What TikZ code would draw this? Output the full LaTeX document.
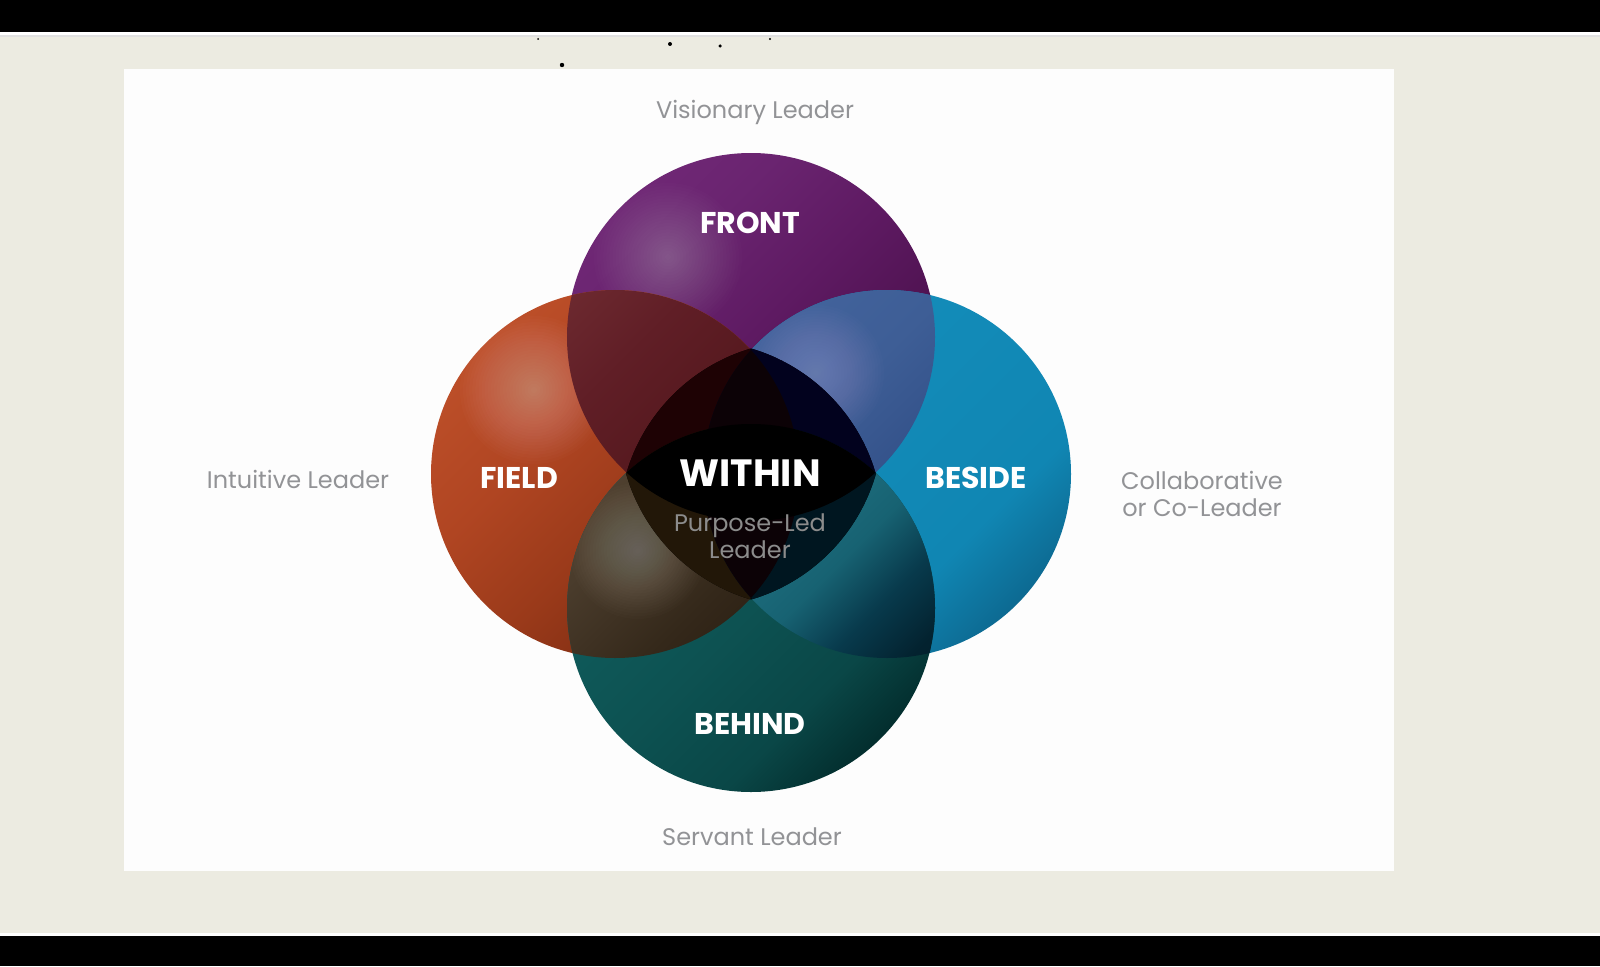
\documentclass[tikz,border=0pt]{standalone}
\usepackage{fontspec}
\setmainfont{Poppins}
\usetikzlibrary{positioning}

\definecolor{LDRbeige}{HTML}{ECEBE1}
\definecolor{LDRpanel}{HTML}{FDFDFD}
\definecolor{LDRgray}{HTML}{929396}
\definecolor{LDRcore}{HTML}{8C8C8C}

%% core tints
\definecolor{ct1}{HTML}{1E0204}\definecolor{ct2}{HTML}{02021E}\definecolor{ct3}{HTML}{221708}
\definecolor{ct4}{HTML}{001620}\definecolor{ct5}{HTML}{0C0206}

%% diagonal gradients: 15bp = lower right rim, 85bp = upper left rim
\pgfdeclareverticalshading{frontlin}{100bp}{%
  color(0bp)=({rgb,255:red,62;green,8;blue,60});   color(15bp)=({rgb,255:red,62;green,8;blue,60});
  color(35bp)=({rgb,255:red,78;green,18;blue,80});  color(50bp)=({rgb,255:red,94;green,26;blue,98});
  color(65bp)=({rgb,255:red,106;green,36;blue,112}); color(85bp)=({rgb,255:red,116;green,42;blue,122});
  color(100bp)=({rgb,255:red,116;green,42;blue,122})}
\pgfdeclareverticalshading{fieldlin}{100bp}{%
  color(0bp)=({rgb,255:red,110;green,36;blue,14});  color(15bp)=({rgb,255:red,110;green,36;blue,14});
  color(30bp)=({rgb,255:red,126;green,44;blue,18});  color(45bp)=({rgb,255:red,154;green,58;blue,26});
  color(60bp)=({rgb,255:red,176;green,69;blue,34});  color(85bp)=({rgb,255:red,196;green,85;blue,45});
  color(100bp)=({rgb,255:red,196;green,85;blue,45})}
\pgfdeclareverticalshading{besidelin}{100bp}{%
  color(0bp)=({rgb,255:red,7;green,62;blue,92});    color(15bp)=({rgb,255:red,7;green,62;blue,92});
  color(25bp)=({rgb,255:red,13;green,106;blue,146}); color(36bp)=({rgb,255:red,16;green,134;blue,179});
  color(85bp)=({rgb,255:red,21;green,144;blue,189}); color(100bp)=({rgb,255:red,21;green,144;blue,189})}
\pgfdeclareverticalshading{behindlin}{100bp}{%
  color(0bp)=({rgb,255:red,2;green,34;blue,34});    color(15bp)=({rgb,255:red,2;green,34;blue,34});
  color(25bp)=({rgb,255:red,3;green,46;blue,46});    color(35bp)=({rgb,255:red,10;green,71;blue,71});
  color(50bp)=({rgb,255:red,13;green,82;blue,82});   color(65bp)=({rgb,255:red,15;green,90;blue,90});
  color(85bp)=({rgb,255:red,18;green,98;blue,98});   color(100bp)=({rgb,255:red,18;green,98;blue,98})}
%% overlaps
\pgfdeclareverticalshading{frfilin}{100bp}{%
  color(0bp)=({rgb,255:red,48;green,6;blue,8});     color(15bp)=({rgb,255:red,48;green,6;blue,8});
  color(40bp)=({rgb,255:red,72;green,16;blue,26});   color(50bp)=({rgb,255:red,88;green,26;blue,32});
  color(60bp)=({rgb,255:red,96;green,30;blue,38});   color(75bp)=({rgb,255:red,112;green,44;blue,50});
  color(85bp)=({rgb,255:red,122;green,52;blue,56});  color(100bp)=({rgb,255:red,122;green,52;blue,56})}
\pgfdeclareverticalshading{frbslin}{100bp}{%
  color(0bp)=({rgb,255:red,30;green,46;blue,85});   color(15bp)=({rgb,255:red,30;green,46;blue,85});
  color(50bp)=({rgb,255:red,52;green,82;blue,138});  color(62bp)=({rgb,255:red,62;green,94;blue,150});
  color(85bp)=({rgb,255:red,69;green,102;blue,160}); color(100bp)=({rgb,255:red,69;green,102;blue,160})}
\pgfdeclareverticalshading{fibhlin}{100bp}{%
  color(0bp)=({rgb,255:red,26;green,18;blue,8});    color(15bp)=({rgb,255:red,26;green,18;blue,8});
  color(45bp)=({rgb,255:red,42;green,30;blue,18});   color(55bp)=({rgb,255:red,52;green,40;blue,26});
  color(70bp)=({rgb,255:red,74;green,60;blue,44});   color(85bp)=({rgb,255:red,86;green,70;blue,52});
  color(100bp)=({rgb,255:red,86;green,70;blue,52})}
\pgfdeclareverticalshading{bsbhlin}{100bp}{%
  color(0bp)=({rgb,255:red,2;green,24;blue,32});    color(15bp)=({rgb,255:red,2;green,24;blue,32});
  color(30bp)=({rgb,255:red,3;green,34;blue,47});    color(38bp)=({rgb,255:red,8;green,58;blue,76});
  color(46bp)=({rgb,255:red,23;green,98;blue,114});  color(55bp)=({rgb,255:red,30;green,110;blue,126});
  color(85bp)=({rgb,255:red,34;green,112;blue,126}); color(100bp)=({rgb,255:red,34;green,112;blue,126})}

% soft light spot: centre, radius, opacity per ring
\newcommand{\glow}[3]{%
  \foreach \k in {1,...,24}
    \fill[white,opacity=#3] (#1) circle ({#2*\k/24});}

\begin{document}
\begin{tikzpicture}[x=1pt, y=-1pt]

%% ── helpers ───────────────────────────────────────────────
\tikzset{
  outer/.style={font=\fontsize{24}{27}\selectfont,text=LDRgray,align=center,inner sep=0pt},
  ttl/.style={font=\fontsize{30}{32}\selectfont\bfseries,text=white,inner sep=0pt},
  dot/.style={circle,fill=black,inner sep=0pt,minimum size=#1},
  disc/.style={shading=#1,shading angle=45},
}
\useasboundingbox (0,0) rectangle (1600,966);

%% ── screen frame ─────────────────────────────────────────
\fill[black]      (0,0)   rectangle (1600,32);
\fill[white]      (0,32)  rectangle (1600,35);
\fill[LDRbeige]   (0,35)  rectangle (1600,933);
\fill[black!12]   (0,35)  rectangle (1600,37);
\fill[white]      (0,933) rectangle (1600,936);
\fill[black]      (0,936) rectangle (1600,966);
\fill[LDRpanel]   (123.5,69.5) rectangle (1394,871);

\node[dot=2pt]   (d1) at (538,39) {};
\node[dot=4pt]   (d2) at (670,44) {};
\node[dot=3.5pt] (d3) at (720,46) {};
\node[dot=2.4pt] (d4) at (770,39) {};
\node[dot=4.4pt] (d5) at (562,65) {};

%% ── circle centres ───────────────────────────────────────
\coordinate (fr) at (751,337);
\coordinate (fi) at (615,474);
\coordinate (bs) at (887,474);
\coordinate (bh) at (751,608);
% light spots
\coordinate (gfr) at (668,257);
\coordinate (gfi) at (534,390);
\coordinate (gbs) at (816,373);
\coordinate (gbh) at (638,551);
% centres of the four arcs of the core
\coordinate (kul) at (803,525);
\coordinate (kur) at (699,525);
\coordinate (kll) at (803,423);
\coordinate (klr) at (699,423);

%% ── the four circles ─────────────────────────────────────
\shade[disc=frontlin]  (fr) circle (184);
\shade[disc=fieldlin]  (fi) circle (184);
\shade[disc=besidelin] (bs) circle (184);
\shade[disc=behindlin] (bh) circle (184);
\begin{scope}
  \clip (fr) circle (184);
  \glow{gfr}{74}{0.012}
\end{scope}
\begin{scope}
  \clip (fi) circle (184);
  \glow{gfi}{74}{0.0145}
\end{scope}

%% ── pairwise overlaps ────────────────────────────────────
\begin{scope}
  \clip (fr) circle (184);
  \shade[disc=frfilin] (fi) circle (184);
  \shade[disc=frbslin] (bs) circle (184);
  \clip (bs) circle (184);
  \glow{gbs}{68}{0.0135}
\end{scope}
\begin{scope}
  \clip (fi) circle (184);
  \shade[disc=fibhlin] (bh) circle (184);
  \clip (bh) circle (184);
  \glow{gbh}{68}{0.012}
\end{scope}
\begin{scope}
  \clip (bh) circle (184);
  \shade[disc=bsbhlin] (bs) circle (184);
\end{scope}

%% ── dark core ────────────────────────────────────────────
\begin{scope}
  \clip (kul) circle (184);
  \clip (kur) circle (184);
  \clip (kll) circle (184);
  \clip (klr) circle (184);
  \fill[black] (600,330) rectangle (900,620);
  \begin{scope}
    \clip (fr) circle (184);
    \fill[ct1] (fi) circle (184);
    \fill[ct2] (bs) circle (184);
  \end{scope}
  \begin{scope}
    \clip (bh) circle (184);
    \fill[ct3] (fi) circle (184);
    \fill[ct4] (bs) circle (184);
  \end{scope}
  \begin{scope}
    \clip (fi) circle (184);
    \fill[ct5] (bs) circle (184);
  \end{scope}
  \begin{scope}
    \clip (fr) circle (184);
    \fill[black] (bh) circle (184);
  \end{scope}
\end{scope}

%% ── labels ───────────────────────────────────────────────
\node[ttl] (tfront)  at (750,223) {FRONT};
\node[ttl] (tfield)  at (519,478) {FIELD};
\node[ttl] (tbeside) at (976,478) {BESIDE};
\node[ttl] (tbehind) at (750,724) {BEHIND};
\node[ttl,font=\fontsize{38}{40}\selectfont\bfseries] (within) at (750,473) {WITHIN};
\node[outer,text=LDRcore,font=\fontsize{24}{27}\selectfont,below=27pt of within] (purpose)
  {Purpose-Led\\Leader};

\node[outer] (visionary) at (755,112) {Visionary Leader};
\node[outer] (intuitive) at (298,479) {Intuitive Leader};
\node[outer] (collab)    at (1202,494) {Collaborative\\or Co-Leader};
\node[outer] (servant)   at (752,837) {Servant Leader};

\end{tikzpicture}
\end{document}
